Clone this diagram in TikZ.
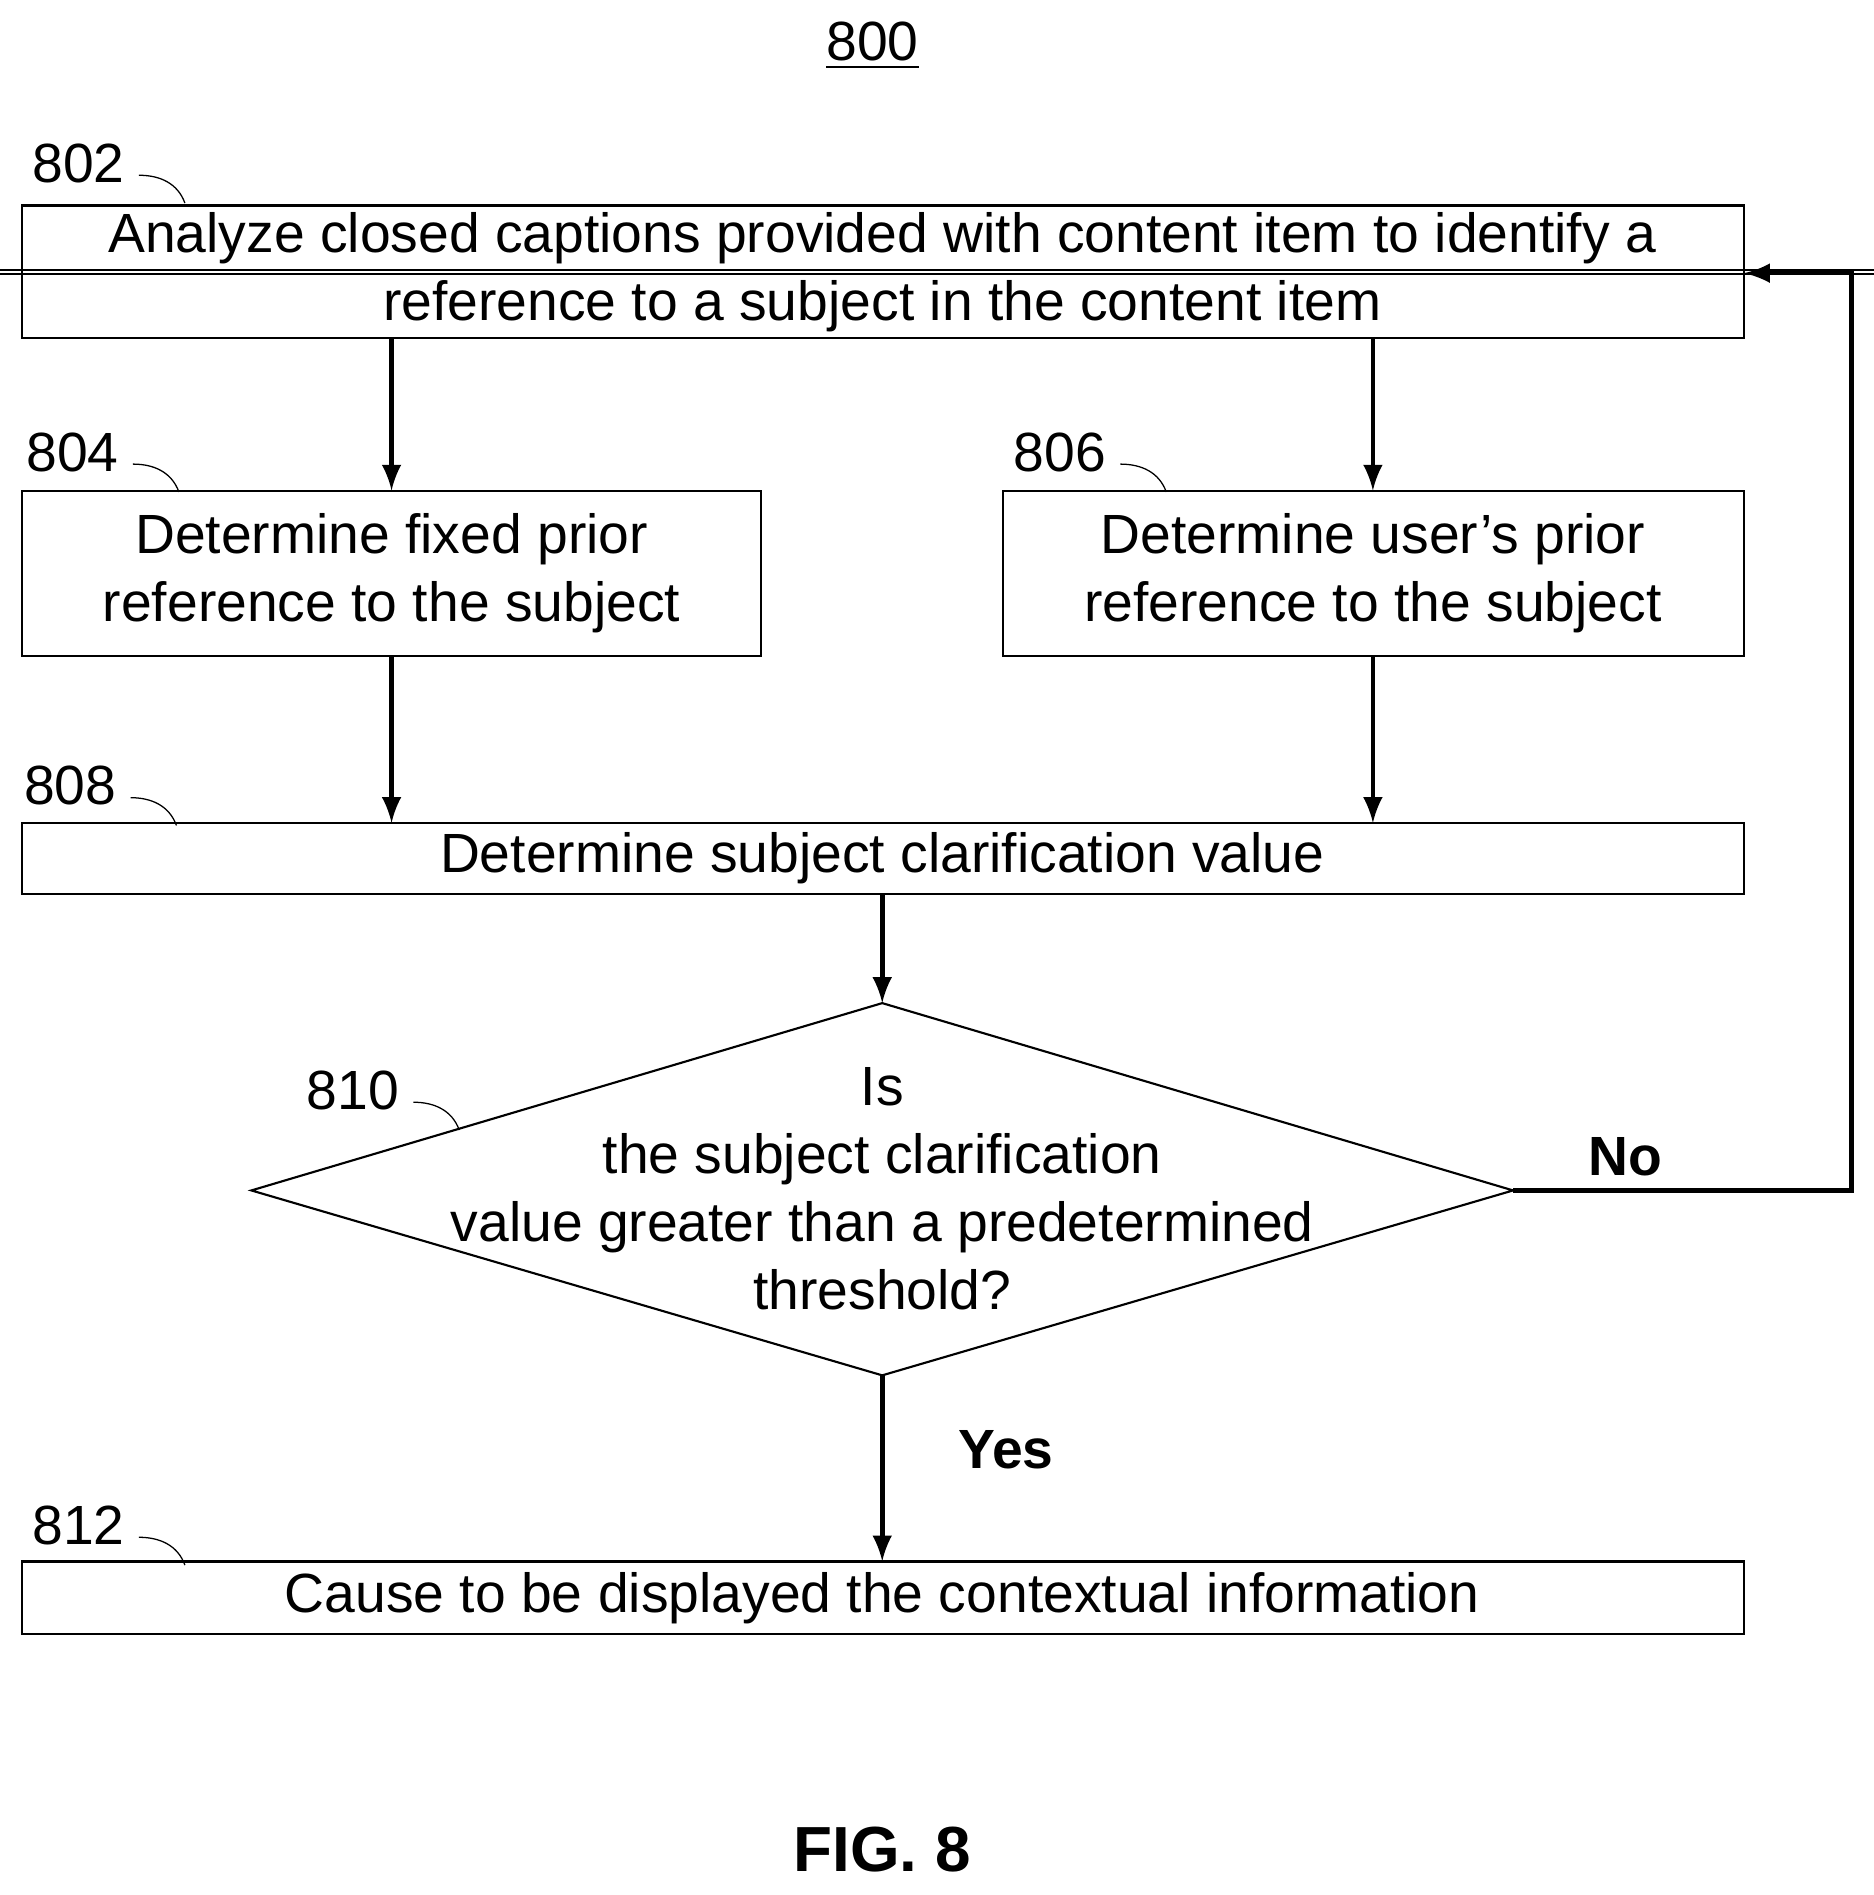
\documentclass[tikz,border=0pt]{standalone}
\usepackage{fontspec}
\setmainfont{Liberation Sans}
\usetikzlibrary{positioning}
\tikzset{
  box/.style={draw,line width=0.5pt,inner sep=0pt,align=center,font=\fontsize{13}{16}\selectfont},
  flow/.style={->,>=latex,line width=1.1pt},
  ref/.style={font=\fontsize{13}{16}\selectfont,anchor=center},
  tick/.style={line width=0.3pt}
}
\begin{document}
\begin{tikzpicture}[x=0.01cm,y=-0.01cm]
    \useasboundingbox (0,0) rectangle (1550,1568);
    % Title
    \node[ref] (title) at (722,38) {\underline{800}};

    % Boxes
    \node[box,minimum width=1425\pgflinewidth,text width=14cm] (b802) at (730.5,225) {};
    \draw[line width=0.5pt] (18,170) rectangle (1443,280);
    \node[box,draw=none] (t802) at (730,225) {Analyze closed captions provided with content item to identify a\\reference to a subject in the content item};
    \draw[line width=0.5pt] (18,406) rectangle (630,543);
    \node[box,draw=none] (b804) at (324,474) {Determine fixed prior\\reference to the subject};
    \draw[line width=0.5pt] (830,406) rectangle (1443,543);
    \node[box,draw=none] (b806) at (1136,474) {Determine user's prior\\reference to the subject};
    \draw[line width=0.5pt] (18,681) rectangle (1443,740);
    \node[box,draw=none] (b808) at (730,710) {Determine subject clarification value};
    \draw[line width=0.5pt] (18,1292) rectangle (1443,1352);
    \node[box,draw=none] (b812) at (730,1322) {Cause to be displayed the contextual information};

    % Decision
    \coordinate (dT) at (730,830);
    \coordinate (dB) at (730,1138);
    \coordinate (dL) at (208,985);
    \coordinate (dR) at (1252,985);
    \draw[line width=0.5pt] (dT) -- (dR) -- (dB) -- (dL) -- cycle;
    \node[box,draw=none] (d810) at (730,984) {Is\\the subject clarification\\value greater than a predetermined\\threshold?};

    % Reference numerals
    \foreach \n/\x/\y in {802/65/135,804/60/374,806/877/374,808/58/650,810/292/902,812/65/1262}{
      \node[ref] (r\n) at (\x,\y) {\n};
      \draw[tick] (\x+50,\y+10) to[out=0,in=110] (\x+88,\y+33);
    }

    % Connectors
    \draw[flow] (324,280) -- (324,406);
    \draw[flow] (1136,280) -- (1136,406);
    \draw[flow] (324,543) -- (324,681);
    \draw[flow] (1136,543) -- (1136,681);
    \draw[flow] (730,740) -- (dT);
    \draw[flow] (dB) -- (730,1292) node[pos=0.4,right=14pt,font=\fontsize{13}{16}\selectfont\bfseries] {Yes};
    \draw[flow] (dR) -- (1532,985) -- (1532,226) -- (1443,226);
    \node[font=\fontsize{13}{16}\selectfont\bfseries] (no) at (1345,957) {No};

    % Figure label
    \node[font=\fontsize{15}{18}\selectfont\bfseries] (fig) at (730,1530) {FIG. 8};
\end{tikzpicture}
\end{document}
